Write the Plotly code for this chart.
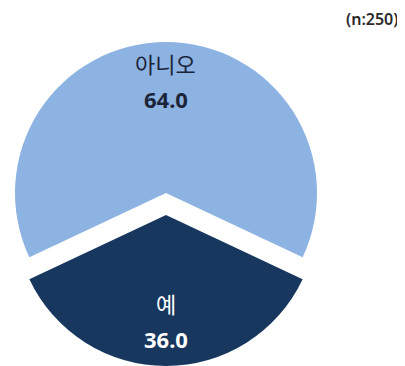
import math
import plotly.graph_objects as go

categories = ["아니오", "예"]
values = [64.0, 36.0]
colors = ["#8DB3E2", "#17375E"]
text_colors = ["#1B2438", "#FFFFFF"]
note = "(n:250)"

# page body adds an 8px margin, so the figure is drawn 8px in from the corner
W, H = 397, 358
R = 151
CX, CY = 158, 185
SHIFT = 22              # downward offset of the exploded slice (px)
ROTATION = 244.8        # start angle of the first slice, clockwise from 12 o'clock
LABEL_R = [0.74, 0.70]  # label radial position as fraction of radius
LINE_GAP = 18           # half distance between label and value (px)


def dom(cx, cy, r):
    return dict(x=[(cx - r) / W, (cx + r) / W],
                y=[max(0.0, 1 - (cy + r) / H), min(1.0, 1 - (cy - r) / H)])


fig = go.Figure()
total = sum(values)
start = ROTATION
for i in range(len(values)):
    mc = ["rgba(0,0,0,0)"] * len(values)
    mc[i] = colors[i]
    cy = CY + (SHIFT if i == 1 else 0)
    fig.add_trace(go.Pie(
        labels=categories, values=values, sort=False,
        direction="clockwise", rotation=ROTATION,
        marker=dict(colors=mc, line=dict(width=0)),
        textinfo="none", hoverinfo="skip", showlegend=False,
        domain=dom(CX, cy, R),
    ))
    # label position from the slice's mid angle
    sweep = values[i] / total * 360
    mid = math.radians(start + sweep / 2)
    start += sweep
    px = CX + LABEL_R[i] * R * math.sin(mid)
    py = cy - LABEL_R[i] * R * math.cos(mid)
    fig.add_annotation(text=categories[i], x=px / W, y=1 - (py - LINE_GAP) / H,
                       xref="paper", yref="paper", showarrow=False,
                       xanchor="center", yanchor="middle",
                       font=dict(family="Noto Sans CJK KR", size=22, color=text_colors[i]))
    fig.add_annotation(text="<b>%.1f</b>" % values[i], x=px / W, y=1 - (py + LINE_GAP) / H,
                       xref="paper", yref="paper", showarrow=False,
                       xanchor="center", yanchor="middle",
                       font=dict(family="Noto Sans", size=22, color=text_colors[i]))

fig.add_annotation(text=note, x=392 / W, y=1 - 11 / H, xref="paper", yref="paper",
                   xanchor="right", yanchor="middle", showarrow=False,
                   font=dict(family="Noto Sans", size=16, weight=600, color="#2A2A2A"))

fig.update_layout(width=W, height=H, margin=dict(l=0, r=0, t=0, b=0),
                  paper_bgcolor="white", plot_bgcolor="white")
fig.write_html("out.html")
